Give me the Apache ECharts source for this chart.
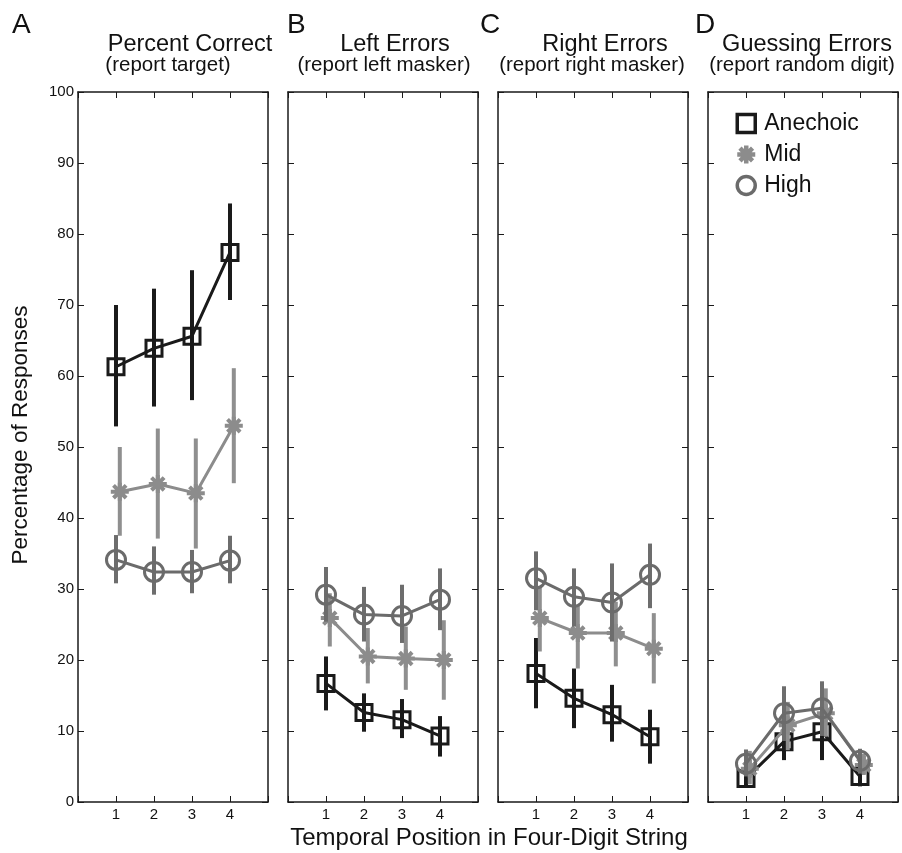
<!DOCTYPE html>
<html><head><meta charset="utf-8">
<script src="https://cdn.jsdelivr.net/npm/echarts@6/dist/echarts.min.js"></script>
<style>html,body{margin:0;padding:0;background:#fff}#c{width:902px;height:853px}</style>
</head><body><div id="c"></div>
<script>
const positions = [1, 2, 3, 4];
const xTickLabels = ['1', '2', '3', '4'];
const yTickLabels = ['0','10','20','30','40','50','60','70','80','90','100'];
const seriesNames = ['Anechoic', 'Mid', 'High'];
const panelLetters = ['A', 'B', 'C', 'D'];
const panelTitles = ['Percent Correct', 'Left Errors', 'Right Errors', 'Guessing Errors'];
const panelSubtitles = ['(report target)', '(report left masker)', '(report right masker)', '(report random digit)'];
const yAxisTitle = 'Percentage of Responses';
const xAxisTitle = 'Temporal Position in Four-Digit String';

// Panel A: Percent Correct
const aAnechoic = [61.3, 63.9, 65.6, 77.4];
const aAnechoicLo = [52.9, 55.7, 56.6, 70.7];
const aAnechoicHi = [70.0, 72.3, 74.9, 84.3];
const aMid = [43.7, 44.8, 43.5, 53.0];
const aMidLo = [37.5, 37.1, 35.7, 44.9];
const aMidHi = [50.0, 52.6, 51.2, 61.1];
const aHigh = [34.1, 32.4, 32.4, 34.0];
const aHighLo = [30.8, 29.2, 29.4, 30.8];
const aHighHi = [37.6, 36.0, 35.5, 37.5];

// Panel B: Left Errors
const bAnechoic = [16.7, 12.6, 11.6, 9.3];
const bAnechoicLo = [12.9, 9.9, 9.0, 6.4];
const bAnechoicHi = [20.5, 15.3, 14.5, 12.1];
const bMid = [25.9, 20.5, 20.2, 20.0];
const bMidLo = [21.9, 16.7, 15.8, 14.4];
const bMidHi = [29.4, 24.5, 24.7, 25.6];
const bHigh = [29.2, 26.4, 26.2, 28.5];
const bHighLo = [25.4, 22.6, 22.4, 24.2];
const bHighHi = [33.1, 30.3, 30.6, 32.9];

// Panel C: Right Errors
const cAnechoic = [18.1, 14.6, 12.3, 9.2];
const cAnechoicLo = [13.2, 10.4, 8.5, 5.4];
const cAnechoicHi = [23.1, 18.8, 16.5, 13.0];
const cMid = [25.9, 23.8, 23.8, 21.6];
const cMidLo = [21.2, 18.8, 19.1, 16.7];
const cMidHi = [30.3, 27.7, 28.2, 26.6];
const cHigh = [31.5, 28.9, 28.1, 32.0];
const cHighLo = [27.0, 24.7, 22.6, 27.3];
const cHighHi = [35.3, 32.9, 33.6, 36.4];

// Panel D: Guessing Errors
const dAnechoic = [3.3, 8.5, 9.9, 3.6];
const dAnechoicLo = [2.0, 5.9, 5.9, 2.2];
const dAnechoicHi = [6.9, 11.1, 12.5, 5.2];
const dMid = [4.7, 10.8, 12.5, 5.2];
const dMidLo = [2.5, 7.3, 9.2, 3.8];
const dMidHi = [7.2, 14.1, 16.0, 6.8];
const dHigh = [5.4, 12.5, 13.2, 5.8];
const dHighLo = [3.6, 8.6, 9.3, 4.0];
const dHighHi = [7.4, 16.3, 17.0, 7.5];

const panels = [
  [[aAnechoic, aAnechoicLo, aAnechoicHi], [aMid, aMidLo, aMidHi], [aHigh, aHighLo, aHighHi]],
  [[bAnechoic, bAnechoicLo, bAnechoicHi], [bMid, bMidLo, bMidHi], [bHigh, bHighLo, bHighHi]],
  [[cAnechoic, cAnechoicLo, cAnechoicHi], [cMid, cMidLo, cMidHi], [cHigh, cHighLo, cHighHi]],
  [[dAnechoic, dAnechoicLo, dAnechoicHi], [dMid, dMidLo, dMidHi], [dHigh, dHighLo, dHighHi]]
];

const FONT = '"Liberation Sans", Arial, Helvetica, sans-serif';
const colors = ['#1a1a1a', '#8c8c8c', '#6b6b6b'];
const barColors = ['#1a1a1a', '#8f8f8f', '#6d6d6d'];
const xOffsets = [0, 0.1, 0];
const asterisk = 'path://M10,0L10,20M0,10L20,10M3,3L17,17M3,17L17,3';
const symbols = ['rect', asterisk, 'circle'];
const symbolSizes = [16, 18, 19];
const symbolBorders = [3, 4, 3];

const gridLefts = [78, 288, 498, 708];
const grids = [], xAxes = [], yAxes = [], series = [];
const axisLine = {show: true, onZero: false, lineStyle: {color: '#1a1a1a', width: 1.5}};
const tick = {show: true, inside: true, length: 6, lineStyle: {color: '#1a1a1a', width: 1}};

gridLefts.forEach((left, i) => {
  grids.push({left: left, width: 190, top: 92, height: 710});
  xAxes.push({
    type: 'value', gridIndex: i, min: 0, max: 5, interval: 1, position: 'bottom',
    axisLine, axisTick: tick, splitLine: {show: false},
    axisLabel: {
      margin: 5, fontSize: 15, fontFamily: FONT, color: '#111',
      formatter: v => (v >= 1 && v <= 4) ? xTickLabels[v - 1] : ''
    }
  });
  xAxes.push({
    type: 'value', gridIndex: i, min: 0, max: 5, interval: 1, position: 'top',
    axisLine, axisTick: tick, splitLine: {show: false}, axisLabel: {show: false}
  });
  yAxes.push({
    type: 'value', gridIndex: i, min: 0, max: 100, interval: 10, position: 'left',
    axisLine, axisTick: tick, splitLine: {show: false},
    axisLabel: {
      show: i === 0, margin: 4, fontSize: 15, fontFamily: FONT, color: '#111',
      formatter: v => yTickLabels[Math.round(v / 10)]
    }
  });
  yAxes.push({
    type: 'value', gridIndex: i, min: 0, max: 100, interval: 10, position: 'right',
    axisLine, axisTick: tick, splitLine: {show: false}, axisLabel: {show: false}
  });

  panels[i].forEach((grp, s) => {
    const [mean, lo, hi] = grp;
    const xs = positions.map(p => p + xOffsets[s]);
    series.push({
      type: 'custom', name: seriesNames[s], xAxisIndex: 2 * i, yAxisIndex: 2 * i, z: 2 + s * 2,
      data: xs.map((x, k) => [x, lo[k], hi[k]]),
      renderItem: (params, api) => {
        const p1 = api.coord([api.value(0), api.value(1)]);
        const p2 = api.coord([api.value(0), api.value(2)]);
        return {type: 'line', shape: {x1: p1[0], y1: p1[1], x2: p2[0], y2: p2[1]},
          style: {stroke: barColors[s], lineWidth: 4}};
      },
      silent: true
    });
    series.push({
      type: 'line', name: seriesNames[s], xAxisIndex: 2 * i, yAxisIndex: 2 * i, z: 3 + s * 2,
      data: xs.map((x, k) => [x, mean[k]]),
      symbol: symbols[s], symbolSize: symbolSizes[s], showAllSymbol: true,
      lineStyle: {color: colors[s], width: 3},
      itemStyle: {color: 'rgba(255,255,255,0)', borderColor: colors[s], borderWidth: symbolBorders[s]},
      animation: false
    });
  });
});

const graphics = [];
const letterX = [12, 287, 480, 695];
panelLetters.forEach((L, i) => {
  graphics.push({type: 'text', x: letterX[i], y: 25,
    style: {text: L, fontSize: 28, fontFamily: FONT, fill: '#111', align: 'left', verticalAlign: 'middle'}});
});
const titleX = [190, 395, 605, 807];
const subX = [168, 384, 592, 802];
panelTitles.forEach((t, i) => {
  graphics.push({type: 'text', x: titleX[i], y: 45,
    style: {text: t, fontSize: 23.5, fontFamily: FONT, fill: '#111', align: 'center', verticalAlign: 'middle'}});
  graphics.push({type: 'text', x: subX[i], y: 65,
    style: {text: panelSubtitles[i], fontSize: 20.5, fontFamily: FONT, fill: '#111', align: 'center', verticalAlign: 'middle'}});
});
graphics.push({type: 'text', x: 489, y: 838,
  style: {text: xAxisTitle, fontSize: 24, fontFamily: FONT, fill: '#111', align: 'center', verticalAlign: 'middle'}});
graphics.push({type: 'text', x: 21, y: 435, rotation: Math.PI / 2,
  style: {text: yAxisTitle, fontSize: 22.5, fontFamily: FONT, fill: '#111', align: 'center', verticalAlign: 'middle'}});

const chart = echarts.init(document.getElementById('c'), null, {renderer: 'canvas'});
chart.setOption({
  animation: false,
  grid: grids, xAxis: xAxes, yAxis: yAxes, series: series,
  graphic: graphics,
  legend: {
    orient: 'vertical', left: 735, top: 112, padding: 0, itemWidth: 18, itemHeight: 18, itemGap: 8,
    textStyle: {fontSize: 23, fontFamily: FONT, color: '#111', padding: [0, 0, 0, 4]},
    data: [
      {name: 'Anechoic', icon: 'rect', itemStyle: {color: 'rgba(255,255,255,0)', borderColor: colors[0], borderWidth: 3.5}},
      {name: 'Mid', icon: asterisk, itemStyle: {color: 'rgba(255,255,255,0)', borderColor: colors[1], borderWidth: 4.5}},
      {name: 'High', icon: 'circle', itemStyle: {color: 'rgba(255,255,255,0)', borderColor: colors[2], borderWidth: 3.5}}
    ],
    selectedMode: false
  }
});
</script></body></html>
